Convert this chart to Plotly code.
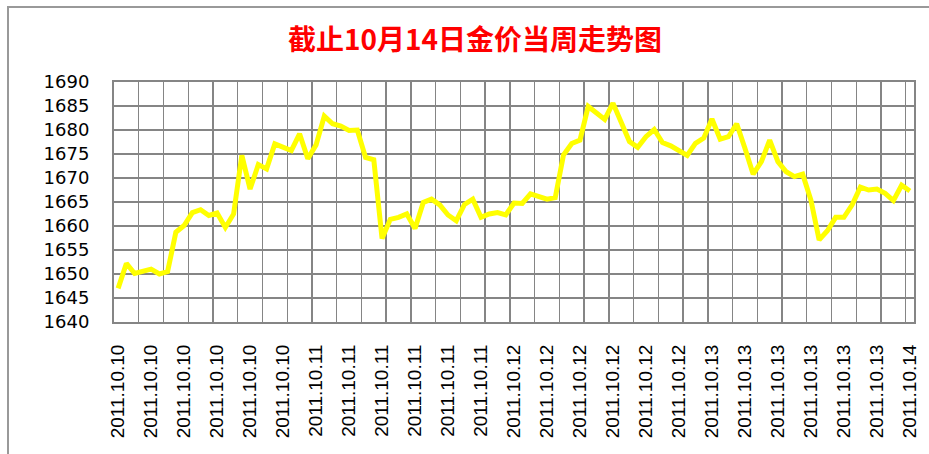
import plotly.graph_objects as go

# ---- data ----
days = ["2011.10.10"] * 6 + ["2011.10.11"] * 6 + ["2011.10.12"] * 6 + ["2011.10.13"] * 6 + ["2011.10.14"]

prices = [
    1647.0, 1652.2, 1650.1, 1650.5, 1651.0, 1650.0, 1650.5, 1658.7, 1660.1, 1662.8,
    1663.4, 1662.2, 1662.7, 1659.7, 1662.5, 1674.7, 1667.7, 1672.8, 1671.9, 1677.1,
    1676.4, 1675.7, 1679.2, 1674.0, 1676.9, 1682.9, 1681.3, 1680.8, 1679.9, 1680.0,
    1674.3, 1673.8, 1657.4, 1661.4, 1661.8, 1662.5, 1659.5, 1664.9, 1665.6, 1664.4,
    1662.3, 1661.1, 1664.5, 1665.6, 1661.8, 1662.5, 1662.8, 1662.3, 1664.8, 1664.7,
    1666.7, 1666.1, 1665.6, 1665.9, 1674.8, 1677.2, 1677.9, 1684.9, 1683.5, 1682.2,
    1685.6, 1681.7, 1677.6, 1676.4, 1678.6, 1680.1, 1677.4, 1676.7, 1675.8, 1674.7,
    1677.2, 1678.3, 1682.3, 1678.1, 1678.6, 1681.3, 1676.2, 1670.8, 1673.4, 1677.9,
    1673.4, 1671.3, 1670.3, 1670.8, 1665.4, 1657.1, 1659.0, 1661.8, 1661.8, 1664.4,
    1668.1, 1667.5, 1667.7, 1666.8, 1665.3, 1668.5, 1667.3,
]

y_ticks = [1640, 1645, 1650, 1655, 1660, 1665, 1670, 1675, 1680, 1685, 1690]
title_text = "截止10月14日金价当周走势图"

# ---- figure ----
n = len(prices)
idx = list(range(n))
label_step = 4
grid_step = 3

fig = go.Figure()
fig.add_trace(go.Scatter(
    x=idx, y=prices, mode="lines",
    line=dict(color="#FFFF00", width=5),
    hoverinfo="skip", showlegend=False,
))

GRID = "#858585"
fig.update_layout(
    width=929, height=454,
    margin=dict(l=114, r=15, t=82, b=132),
    paper_bgcolor="white", plot_bgcolor="white",
    showlegend=False,
    title=dict(
        text=title_text,
        font=dict(family="Noto Sans CJK SC", size=28, color="#FF0000", weight="bold"),
        x=(475 - 114) / 800, xref="paper", xanchor="center",
        y=1 - 40 / 454, yref="container", yanchor="middle",
    ),
    xaxis=dict(
        automargin=False,
        range=[-0.5, n - 0.5],
        tickmode="array",
        tickvals=idx[::label_step],
        ticktext=[days[i // label_step] for i in idx[::label_step]],
        tickangle=-90,
        tickfont=dict(family="Liberation Sans", size=19, color="black"),
        ticks="", ticklabelstandoff=13,
        showgrid=False, zeroline=False,
        showline=True, linecolor=GRID, linewidth=2, mirror=True,
        minor=dict(
            tickmode="array",
            tickvals=[k - 0.5 for k in range(0, n, grid_step)],
            showgrid=True, gridcolor=GRID, gridwidth=1.4, ticks="",
        ),
    ),
    yaxis=dict(
        automargin=False,
        range=[y_ticks[0], y_ticks[-1]],
        tickmode="array", tickvals=y_ticks,
        tickfont=dict(family="DejaVu Sans", size=18, color="black"),
        ticks="", ticklabelstandoff=19,
        showgrid=True, gridcolor=GRID, gridwidth=1.4, zeroline=False,
        showline=True, linecolor=GRID, linewidth=2, mirror=True,
    ),
    shapes=[dict(
        type="rect", xref="paper", yref="paper",
        x0=(8 - 114) / 800, x1=1.2, y0=-1.0, y1=(322 - 7) / 240,
        line=dict(color="#999999", width=2), layer="below",
    )],
)

fig.write_html(
    "out.html",
    config={"displayModeBar": False, "staticPlot": True},
    post_script="document.body.style.margin='0';document.body.style.overflow='hidden';",
)
